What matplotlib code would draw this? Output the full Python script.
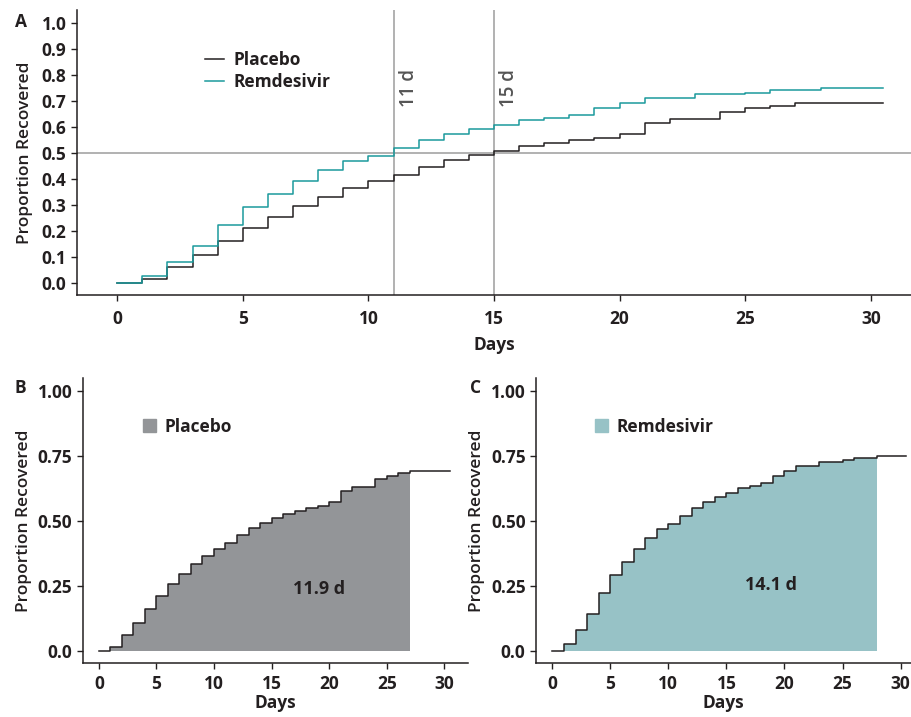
import matplotlib.pyplot as plt
import matplotlib.patches as mpatches

# =========================
# DATA
# =========================

days = [0, 1, 2, 3, 4, 5, 6, 7, 8, 9, 10, 11, 12, 13, 14, 15,
        16, 17, 18, 19, 20, 21, 22, 23, 24, 25, 26, 27, 28, 30.5]

placebo = [0.0, 0.014, 0.062, 0.107, 0.162, 0.209, 0.255, 0.294, 0.332,
           0.363, 0.392, 0.415, 0.447, 0.473, 0.491, 0.509, 0.528, 0.538,
           0.550, 0.558, 0.573, 0.614, 0.630, 0.630, 0.659, 0.673, 0.682,
           0.692, 0.692, 0.692]

remdesivir = [0.0, 0.027, 0.078, 0.140, 0.222, 0.290, 0.343, 0.392, 0.435,
              0.469, 0.487, 0.520, 0.550, 0.572, 0.592, 0.606, 0.626, 0.633,
              0.645, 0.673, 0.691, 0.712, 0.712, 0.726, 0.726, 0.732, 0.742,
              0.742, 0.749, 0.749]

median_days = [11, 15]
median_labels = ["11 d", "15 d"]

rmst_placebo = "11.9 d"
rmst_remdesivir = "14.1 d"
fill_end_placebo = 27
fill_end_remdesivir = 28

# =========================
# STYLING
# =========================

plt.rcParams['font.family'] = ['Open Sans', 'DejaVu Sans']

TEAL = '#1b9a9c'
DARK = '#231f20'
GRAY_FILL = '#939598'
TEAL_FILL = '#97c2c6'
REF_GRAY = '#9d9d9d'
TICK_SIZE = 12.5
LABEL_SIZE = 12.5
LEGEND_SIZE = 12.5


def style_axes(ax, xpad):
    for side in ['top', 'right']:
        ax.spines[side].set_visible(False)
    for side in ['left', 'bottom']:
        ax.spines[side].set_color(DARK)
        ax.spines[side].set_linewidth(1.1)
    ax.tick_params(direction='out', length=4, width=1, color=DARK,
                   labelsize=TICK_SIZE, labelcolor=DARK)
    ax.tick_params(axis='x', pad=xpad)
    for lab in ax.get_xticklabels() + ax.get_yticklabels():
        lab.set_fontweight('bold')
    ax.set_xlabel("Days", fontsize=LABEL_SIZE, fontweight='bold', color=DARK)
    ax.set_ylabel("Proportion Recovered", fontsize=LABEL_SIZE,
                  fontweight='semibold', color=DARK)


fig = plt.figure(figsize=(9.11, 7.17), dpi=100)

# =========================
# PANEL A
# =========================

axA = fig.add_axes([0.0845, 0.589, 0.9155, 0.397])

axA.axhline(0.5, color=REF_GRAY, linewidth=1.1, zorder=1)
for d, lab in zip(median_days, median_labels):
    axA.axvline(d, color=REF_GRAY, linewidth=1.1, zorder=1)
    axA.text(d + 0.6, 0.75, lab, rotation=90, ha='center', va='center',
             fontsize=13.5, color='#555555', fontweight='semibold')

axA.step(days, placebo, where='post', color=DARK, linewidth=1.1,
         label='Placebo', zorder=3)
axA.step(days, remdesivir, where='post', color=TEAL, linewidth=1.1,
         label='Remdesivir', zorder=3)

axA.set_xlim(-1.6, 31.6)
axA.set_ylim(-0.046, 1.05)
axA.set_xticks([0, 5, 10, 15, 20, 25, 30])
axA.set_yticks([i / 10 for i in range(11)])
axA.set_yticklabels([f"{i / 10:.1f}" for i in range(11)])
style_axes(axA, 7)
axA.xaxis.labelpad = 6
axA.yaxis.labelpad = 6

leg = axA.legend(loc='upper left', bbox_to_anchor=(0.135, 0.91),
                 frameon=False, handlelength=1.1, handletextpad=0.55,
                 labelspacing=0.2,
                 prop={'size': LEGEND_SIZE, 'weight': 'bold'})
for t in leg.get_texts():
    t.set_color(DARK)

fig.text(0.016, 0.97, "A", fontsize=12.5, fontweight='bold', color=DARK,
         ha='left', va='center')

# =========================
# PANEL B / C
# =========================


def rmst_panel(rect, values, fill_end, fill_color, name, rmst_text,
               text_x, text_y, xmax):
    ax = fig.add_axes(rect)
    fx = [d for d in days if d <= fill_end]
    fy = values[:len(fx)]
    ax.fill_between(fx, fy, step='post', color=fill_color, linewidth=0,
                    zorder=1)
    ax.step(days, values, where='post', color=DARK, linewidth=1.1, zorder=3)
    ax.set_xlim(-1.4, xmax)
    ax.set_ylim(-0.046, 1.049)
    ax.set_xticks([0, 5, 10, 15, 20, 25, 30])
    ax.set_yticks([0, 0.25, 0.5, 0.75, 1.0])
    ax.set_yticklabels(["0.0", "0.25", "0.50", "0.75", "1.00"])
    style_axes(ax, 4.5)
    ax.xaxis.labelpad = 1
    ax.text(text_x, text_y, rmst_text, fontsize=13, fontweight='bold',
            color=DARK, ha='center', va='center', zorder=4)
    handle = mpatches.Patch(color=fill_color, label=name)
    lg = ax.legend(handles=[handle], loc='upper left',
                   bbox_to_anchor=(0.115, 0.915), frameon=False,
                   handlelength=0.75, handleheight=0.75, handletextpad=0.5,
                   prop={'size': LEGEND_SIZE, 'weight': 'bold'})
    for t in lg.get_texts():
        t.set_color(DARK)
    return ax


rmst_panel([0.0908, 0.0757, 0.423, 0.397], placebo, fill_end_placebo,
           GRAY_FILL, "Placebo", rmst_placebo, 19.1, 0.237, 32.07)
rmst_panel([0.5884, 0.0757, 0.4116, 0.397], remdesivir, fill_end_remdesivir,
           TEAL_FILL, "Remdesivir", rmst_remdesivir, 18.8, 0.253, 30.9)

fig.text(0.022, 0.459, "B", fontsize=12.5, fontweight='bold', color=DARK,
         ha='center', va='center')
fig.text(0.522, 0.459, "C", fontsize=12.5, fontweight='bold', color=DARK,
         ha='center', va='center')

fig.savefig("out.png", dpi=100)
